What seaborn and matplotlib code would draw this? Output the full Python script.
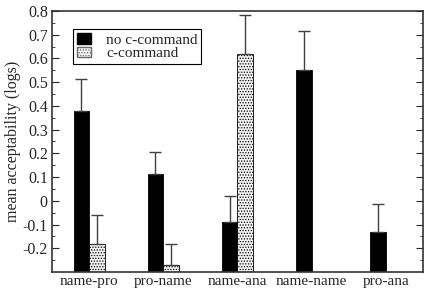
import numpy as np
import pandas as pd
import matplotlib
matplotlib.use("Agg")
import matplotlib.pyplot as plt
import seaborn as sns
from matplotlib.patches import Patch

# values
conditions = ["name-pro", "pro-name", "name-ana", "name-name", "pro-ana"]
groups = ["no c-command", "c-command"]
no_cc = [0.38, 0.115, -0.09, 0.55, -0.13]
no_cc_err = [0.135, 0.09, 0.11, 0.165, 0.115]
cc = [-0.18, -0.27, 0.62, np.nan, np.nan]
cc_err = [0.12, 0.09, 0.165, np.nan, np.nan]
base = -0.3

yticks = [-0.2, -0.1, 0, 0.1, 0.2, 0.3, 0.4, 0.5, 0.6, 0.7, 0.8]
ytick_labels = ["-0.2", "-0.1", "0", "0.1", "0.2", "0.3", "0.4", "0.5", "0.6", "0.7", "0.8"]

df = pd.DataFrame({
    "condition": conditions * 2,
    "group": [groups[0]] * 5 + [groups[1]] * 5,
    "value": no_cc + cc,
    "err": no_cc_err + cc_err,
})
df = df.dropna()
df["height"] = df["value"] - base

sns.set_style("ticks")
plt.rcParams["font.family"] = ["Liberation Serif", "DejaVu Serif"]
plt.rcParams["hatch.color"] = "0.5"
plt.rcParams["hatch.linewidth"] = 0.6

fig = plt.figure(figsize=(4.24, 2.89), dpi=100)
ax = fig.add_axes([0.1226, 0.0588, 0.875, 0.9032])

sns.barplot(data=df, x="condition", y="height", hue="group", order=conditions,
            hue_order=groups, width=0.42, bottom=base, errorbar=None,
            palette=["black", "white"], edgecolor="black", linewidth=0.6,
            legend=False, ax=ax)

# dotted fill for the c-command bars
for bar in ax.containers[1]:
    bar.set_facecolor("#f4f4f4")
    bar.set_hatch("......")

# one-sided error bars
for cont, g in zip(ax.containers, groups):
    sub = df[df["group"] == g].set_index("condition").reindex(
        [c for c in conditions if c in df[df["group"] == g]["condition"].values])
    for bar, (_, row) in zip(cont, sub.iterrows()):
        xc = bar.get_x() + bar.get_width() / 2
        ax.errorbar(xc, row["value"], yerr=[[0], [row["err"]]], fmt="none",
                    ecolor="0.25", elinewidth=1, capsize=4, capthick=1)

ax.set_xlim(-0.5, 4.5)
ax.set_ylim(-0.3, 0.8)
ax.set_yticks(yticks)
ax.set_yticklabels(ytick_labels)
ax.set_yticks(np.arange(-0.25, 0.8, 0.1), minor=True)
ax.tick_params(axis="y", which="both", direction="in", right=True, labelsize=11.5, pad=3)
ax.tick_params(axis="y", which="major", length=5)
ax.tick_params(axis="y", which="minor", length=2.5)
ax.tick_params(axis="x", length=0, labelsize=11, pad=2)
ax.set_xlabel("")
ax.set_ylabel("mean acceptability (logs)", fontsize=11.5, labelpad=1)
for s in ax.spines.values():
    s.set_visible(True)
    s.set_linewidth(1.2)
    s.set_color("0.2")

handles = [Patch(facecolor="black", edgecolor="black", label=groups[0]),
           Patch(facecolor="#f4f4f4", edgecolor="0.4", hatch="......", label=groups[1])]
leg = ax.legend(handles=handles, loc="upper left", bbox_to_anchor=(0.057, 0.93),
                fontsize=11, frameon=True, fancybox=False, edgecolor="black",
                framealpha=1, handlelength=0.9, handleheight=0.7,
                borderpad=0.25, labelspacing=0.0, handletextpad=1.0, borderaxespad=0)
leg.get_frame().set_linewidth(0.8)

fig.savefig("out.png", dpi=100)
